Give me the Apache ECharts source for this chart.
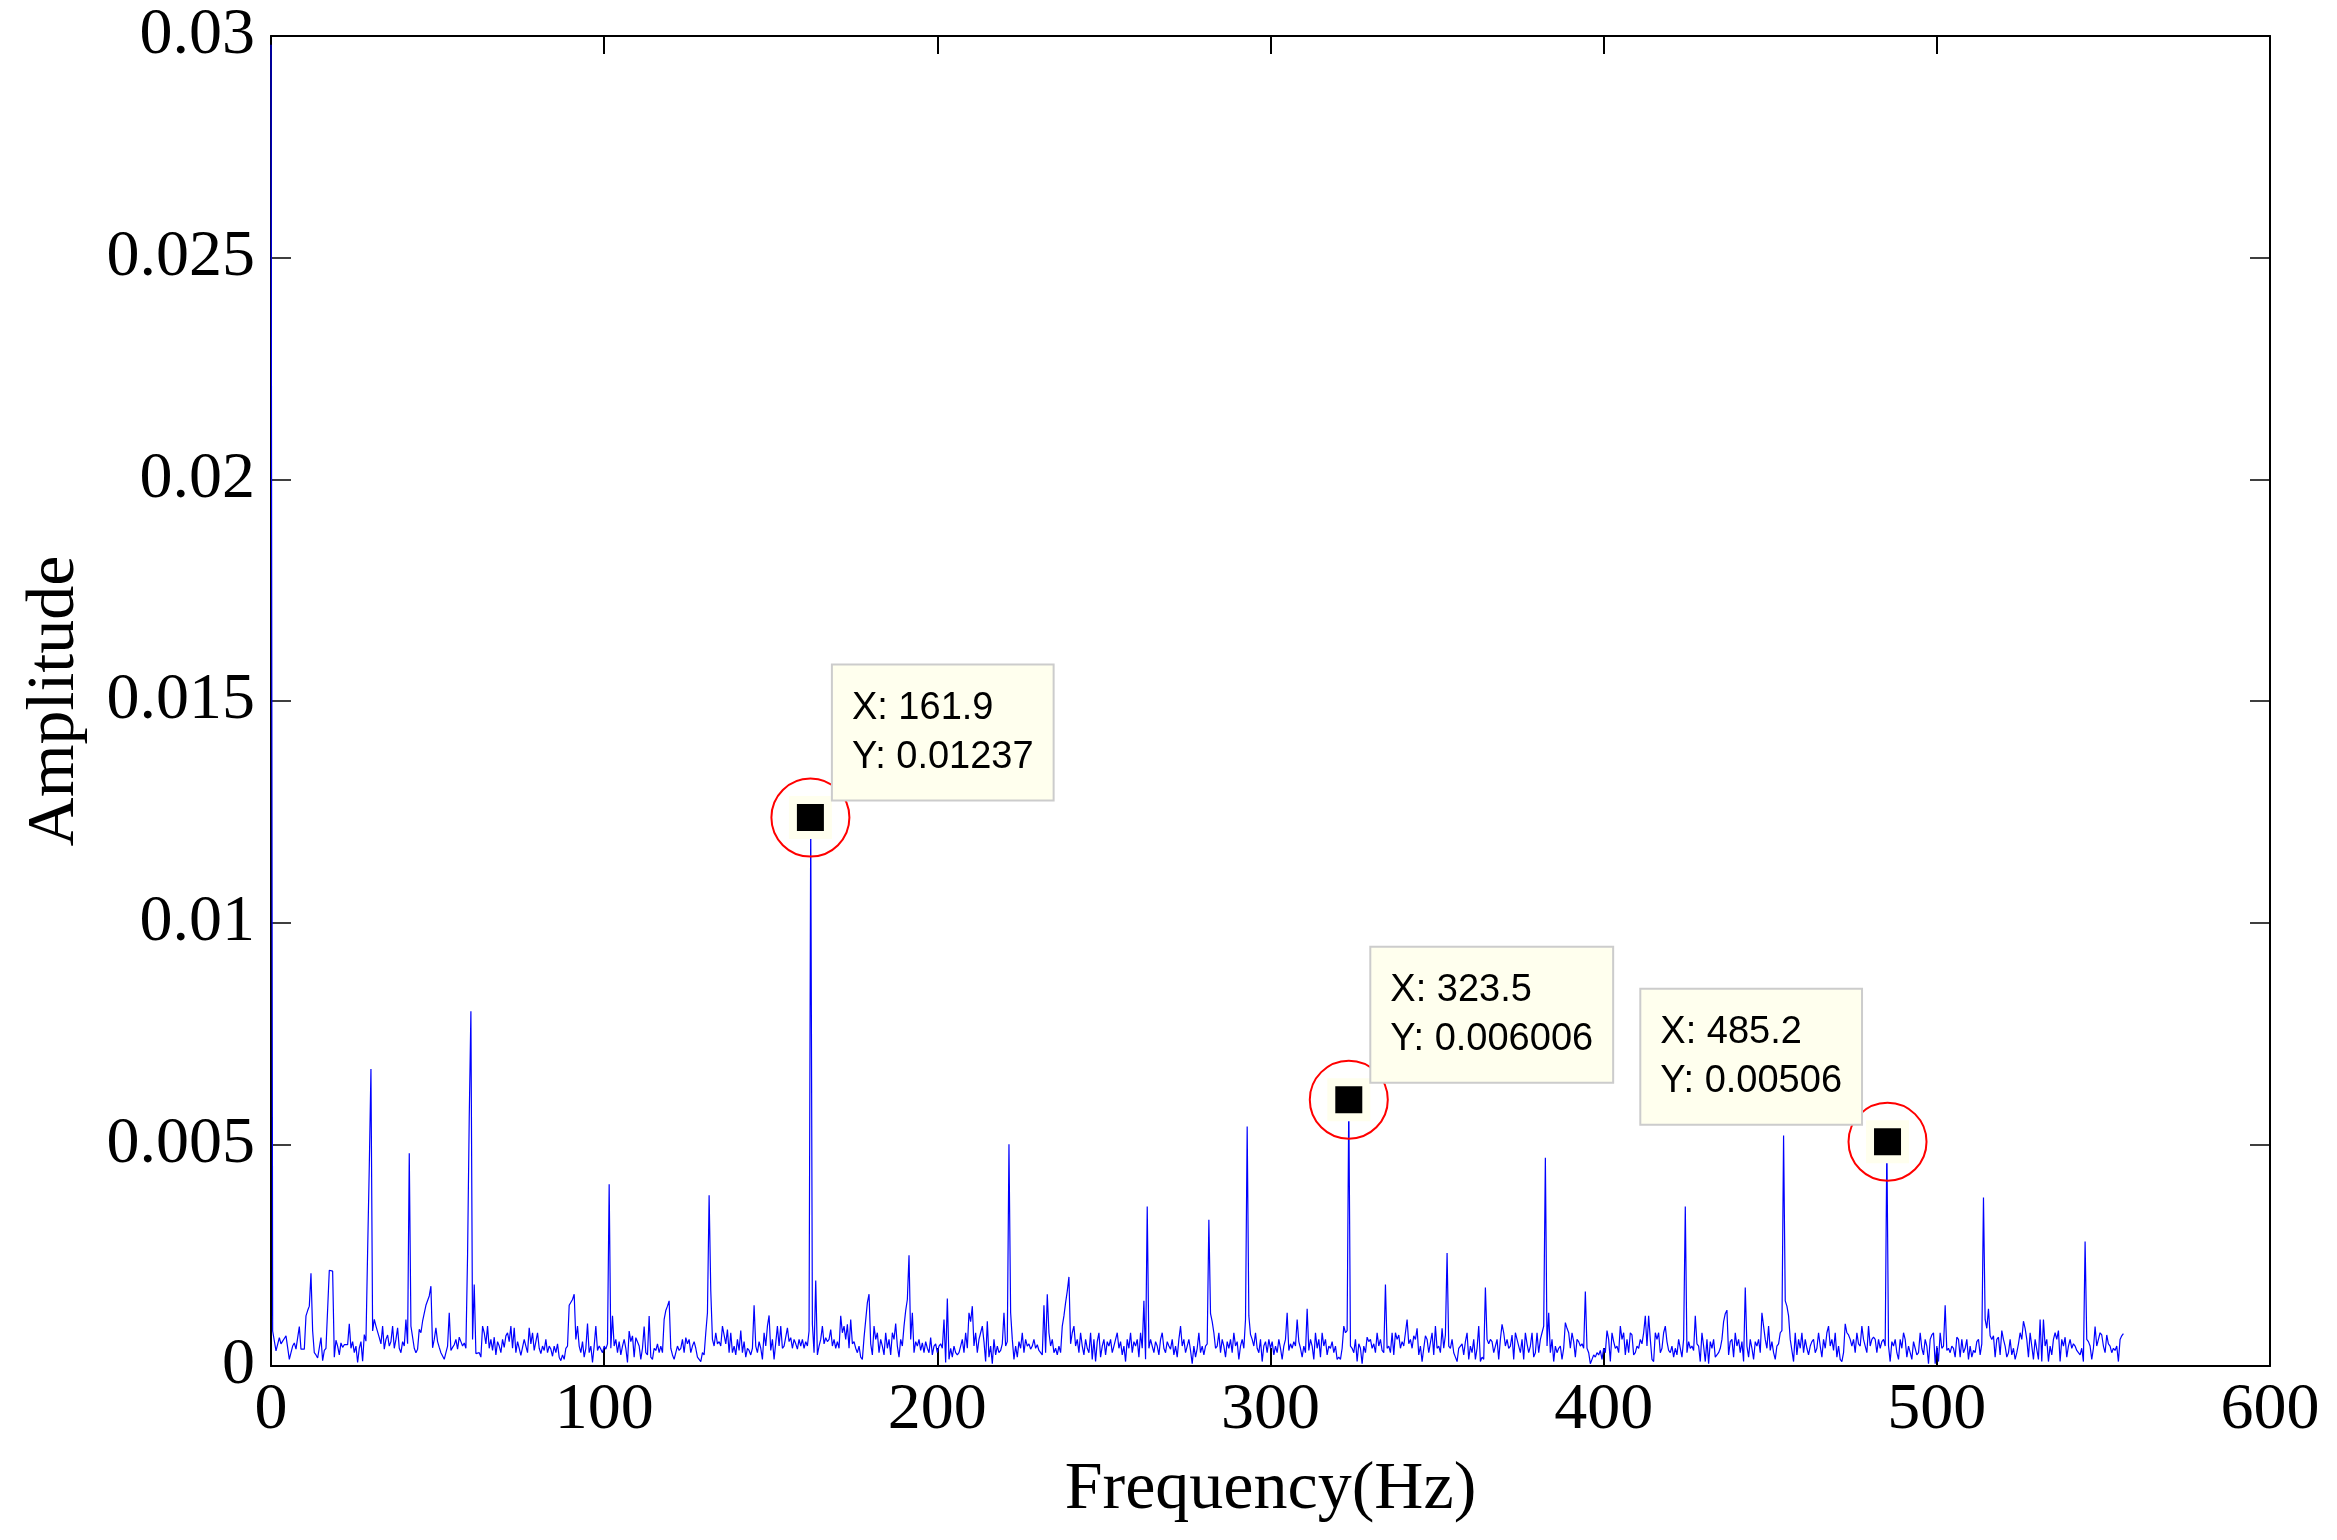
<!DOCTYPE html>
<html>
<head>
<meta charset="utf-8">
<script src="https://cdn.jsdelivr.net/npm/echarts@6/dist/echarts.min.js"></script>
<style>
html,body{margin:0;padding:0;background:#fff;}
#chart{width:2337px;height:1540px;}
</style>
</head>
<body>
<div id="chart"></div>
<script>
// Frequency resolution of the spectrum (Hz per bin) and amplitude unit of the table below
const df = 0.5;
const ampUnit = 1e-5;
// Spectrum amplitude per bin (units of 1e-5), bins 0, 0.5, 1.0 ... 556 Hz, 10 bins (5 Hz) per row
const amplitude = [
2980,79,77,34,36,64,50,56,62,68,
72,15,30,45,52,38,42,89,38,36,
38,113,125,135,209,79,30,25,18,22,
64,12,35,40,38,216,216,214,20,58,
45,25,52,42,48,50,48,95,40,55,
30,45,8,40,55,11,71,56,258,450,
670,79,105,90,94,64,50,90,38,60,
70,45,55,90,40,60,86,40,30,55,
45,105,50,480,90,94,40,30,38,83,
75,101,105,137,140,158,180,41,60,86,
55,42,30,30,15,30,45,120,35,42,
48,60,38,65,55,45,52,40,250,560,
800,60,184,28,25,30,20,90,75,50,
90,40,60,35,65,25,55,45,30,60,
42,68,75,55,90,40,86,30,55,40,
24,24,60,45,30,86,50,75,35,55,
75,40,28,45,35,60,30,45,38,22,
45,30,50,20,12,25,15,40,45,137,
137,150,162,60,90,45,30,55,20,40,
96,30,45,8,45,90,35,45,38,30,
45,38,50,410,40,113,45,60,30,55,
25,45,60,40,8,79,55,68,20,64,
60,45,15,40,89,30,25,113,20,15,
40,35,50,30,45,30,105,125,135,147,
40,25,15,30,45,35,40,60,30,64,
50,60,30,45,55,40,20,15,10,30,
25,75,120,385,169,60,45,75,50,55,
45,90,94,50,82,30,75,30,45,25,
60,35,80,30,55,20,40,35,25,40,
137,45,30,55,40,15,75,45,90,114,
35,60,15,15,90,45,90,40,45,48,
86,55,64,40,60,50,38,60,45,60,
40,55,45,79,1237,94,30,193,25,45,
60,90,50,64,55,60,82,45,60,40,
55,40,113,75,90,60,94,40,105,50,
55,40,30,45,20,15,64,60,143,162,
50,25,90,60,75,30,60,45,25,75,
40,60,25,75,60,96,45,20,60,45,
90,125,150,250,60,120,30,55,45,60,
35,52,30,55,40,30,64,25,45,50,
30,45,50,40,105,8,152,15,40,20,
45,30,25,30,45,60,30,75,40,120,
100,135,45,75,30,60,75,90,55,10,
101,20,45,5,60,25,45,30,35,50,
120,45,55,500,120,60,15,45,20,55,
40,75,30,60,45,50,38,45,60,40,
48,35,30,25,137,30,162,75,45,60,
30,40,25,45,30,90,113,143,169,201,
50,75,90,45,60,30,75,45,25,60,
40,30,75,15,60,10,55,75,20,45,
60,25,55,45,60,30,45,60,75,40,
55,25,45,10,60,40,75,30,55,45,
60,20,75,40,147,15,360,40,60,45,
30,55,45,25,60,75,40,30,55,45,
38,60,25,45,20,60,90,45,60,30,
45,60,35,5,45,20,40,75,30,45,
25,45,50,330,118,100,75,40,45,75,
30,60,45,20,55,40,60,30,75,45,
55,15,45,60,40,105,540,113,71,60,
45,75,40,30,60,10,45,55,30,60,
40,55,25,45,30,60,40,15,45,60,
120,35,50,40,55,45,105,55,40,20,
45,30,129,35,60,45,15,75,40,60,
20,75,45,60,25,45,40,55,30,45,
15,20,15,40,90,75,80,601,45,40,
30,60,10,50,40,5,45,30,65,55,
60,40,50,30,75,45,60,35,30,184,
40,45,30,75,25,75,60,70,40,55,
45,75,105,50,60,40,68,60,85,25,
45,10,40,68,60,30,30,75,25,90,
40,45,30,85,40,70,255,45,40,60,
30,20,10,40,45,50,25,55,75,15,
45,30,60,15,40,90,10,20,15,177,
60,50,60,55,30,45,60,15,60,94,
75,45,60,40,45,70,15,75,60,45,
30,60,15,75,50,30,45,75,20,30,
75,30,60,75,90,470,45,120,30,60,
10,45,30,40,45,15,40,98,85,75,
40,75,55,20,60,55,45,50,40,168,
40,30,5,15,25,20,30,25,35,15,
40,30,80,60,10,75,55,40,45,30,
90,60,75,25,60,30,75,70,25,30,
45,40,60,50,75,113,45,113,60,15,
10,75,60,75,30,40,75,90,55,35,
30,45,20,40,25,60,40,20,60,360,
30,55,40,45,35,113,50,45,10,75,
45,10,60,5,55,40,60,20,25,30,
40,60,100,118,126,25,55,60,20,75,
45,60,30,55,10,177,45,20,60,40,
15,55,45,60,30,120,90,60,40,90,
35,55,30,15,45,50,75,80,520,147,
135,113,60,60,10,75,25,60,40,75,
30,60,40,25,45,55,60,30,40,75,
45,20,60,40,75,90,45,60,35,75,
20,45,15,10,30,95,75,70,60,45,
60,30,75,50,45,90,60,45,30,90,
45,60,65,60,30,60,40,55,60,45,
506,45,10,55,45,60,30,15,60,40,
75,60,20,45,30,15,55,40,25,30,
75,40,25,60,45,5,60,70,75,5,
45,10,75,40,45,137,35,40,30,45,
40,20,65,60,20,60,30,40,60,15,
45,20,35,30,55,60,25,50,380,105,
85,129,68,60,68,20,60,65,25,80,
60,45,20,30,60,25,40,15,30,50,
75,60,101,85,60,20,75,45,15,60,
60,15,105,10,105,45,60,10,45,25,
60,75,60,80,10,60,45,65,20,45,
60,40,50,45,35,30,25,40,10,281,
60,55,45,15,40,89,45,60,75,70,
45,30,70,50,45,30,40,35,45,10,
60,68,73
];
// Data tips (X, Y) shown on the chart
const tipX = [161.9, 323.5, 485.2];
const tipY = [0.01237, 0.006006, 0.00506];
// Axis ranges / ticks
const xMin = 0, xMax = 600, xStep = 100;
const yMin = 0, yMax = 0.03, yStep = 0.005;
const xName = 'Frequency(Hz)';
const yName = 'Amplitude';

const spectrum = amplitude.map((a, i) => [i * df, a * ampUnit]);

const serif = 'Liberation Serif';
const sans = 'Liberation Sans';

function xAxisCfg(pos, showLabel) {
  return {
    type: 'value', position: pos, min: xMin, max: xMax, interval: xStep,
    name: showLabel ? xName : '', nameLocation: 'middle', nameGap: 90,
    nameTextStyle: { fontFamily: serif, fontSize: 68, color: '#000' },
    axisLine: { show: true, onZero: false, lineStyle: { color: '#000', width: 2 } },
    axisTick: { show: true, inside: true, length: 18, lineStyle: { color: '#000', width: 2 } },
    axisLabel: { show: showLabel, margin: 12, fontFamily: serif, fontSize: 66, color: '#000' },
    splitLine: { show: false }
  };
}
function yAxisCfg(pos, showLabel) {
  return {
    type: 'value', position: pos, min: yMin, max: yMax, interval: yStep,
    name: showLabel ? yName : '', nameLocation: 'middle', nameGap: 182,
    nameTextStyle: { fontFamily: serif, fontSize: 68, color: '#000' },
    axisLine: { show: true, onZero: false, lineStyle: { color: '#000', width: 2 } },
    axisTick: { show: true, inside: true, length: 20, lineStyle: { color: '#000', width: 1.5 } },
    axisLabel: { show: showLabel, margin: 16, fontFamily: serif, fontSize: 66, color: '#000',
      formatter: v => String(+v.toFixed(4)) },
    splitLine: { show: false }
  };
}

const tipText = { fontFamily: sans, fontSize: 38, lineHeight: 49, color: '#000', align: 'left' };
const tipLabelBase = {
  show: true,
  formatter: p => '{t|X: ' + p.value[0] + '}\n{t|Y: ' + p.value[1] + '}',
  rich: { t: tipText },
  fontFamily: sans, fontSize: 38, lineHeight: 49, color: '#000',
  backgroundColor: '#ffffee', borderColor: '#cccccc', borderWidth: 2,
  padding: [18, 19, 18, 19], distance: 0, verticalAlign: 'bottom'
};
const tipData = tipX.map((x, i) => {
  const leftSide = i === tipX.length - 1;
  return {
    value: [x, tipY[i]],
    label: Object.assign({}, tipLabelBase, leftSide
      ? { position: 'left', align: 'right', offset: [-5, -18] }
      : { position: 'right', align: 'left', offset: [1, -18] })
  };
});

const chart = echarts.init(document.getElementById('chart'), null, { renderer: 'canvas' });
chart.setOption({
  backgroundColor: '#ffffff',
  animation: false,
  grid: { left: 271, right: 67, top: 36, bottom: 174, containLabel: false },
  xAxis: [xAxisCfg('bottom', true), xAxisCfg('top', false)],
  yAxis: [yAxisCfg('left', true), yAxisCfg('right', false)],
  series: [
    {
      type: 'line', xAxisIndex: 0, yAxisIndex: 0, data: spectrum,
      showSymbol: false, symbol: 'none', sampling: null, clip: true,
      lineStyle: { color: '#0000ff', width: 1.2 }, silent: true, z: 2
    },
    {
      type: 'scatter', xAxisIndex: 0, yAxisIndex: 0,
      data: tipX.map((x, i) => [x, tipY[i]]),
      symbol: 'circle', symbolSize: 78, silent: true, z: 3,
      itemStyle: { color: 'rgba(0,0,0,0)', borderColor: '#ff0000', borderWidth: 2, opacity: 1 }
    },
    {
      type: 'scatter', xAxisIndex: 0, yAxisIndex: 0, data: tipData,
      symbol: 'rect', symbolSize: 35, silent: true, z: 4,
      itemStyle: { color: '#000000', borderColor: '#ffffee', borderWidth: 8, opacity: 1 }
    }
  ]
});
</script>
</body>
</html>
